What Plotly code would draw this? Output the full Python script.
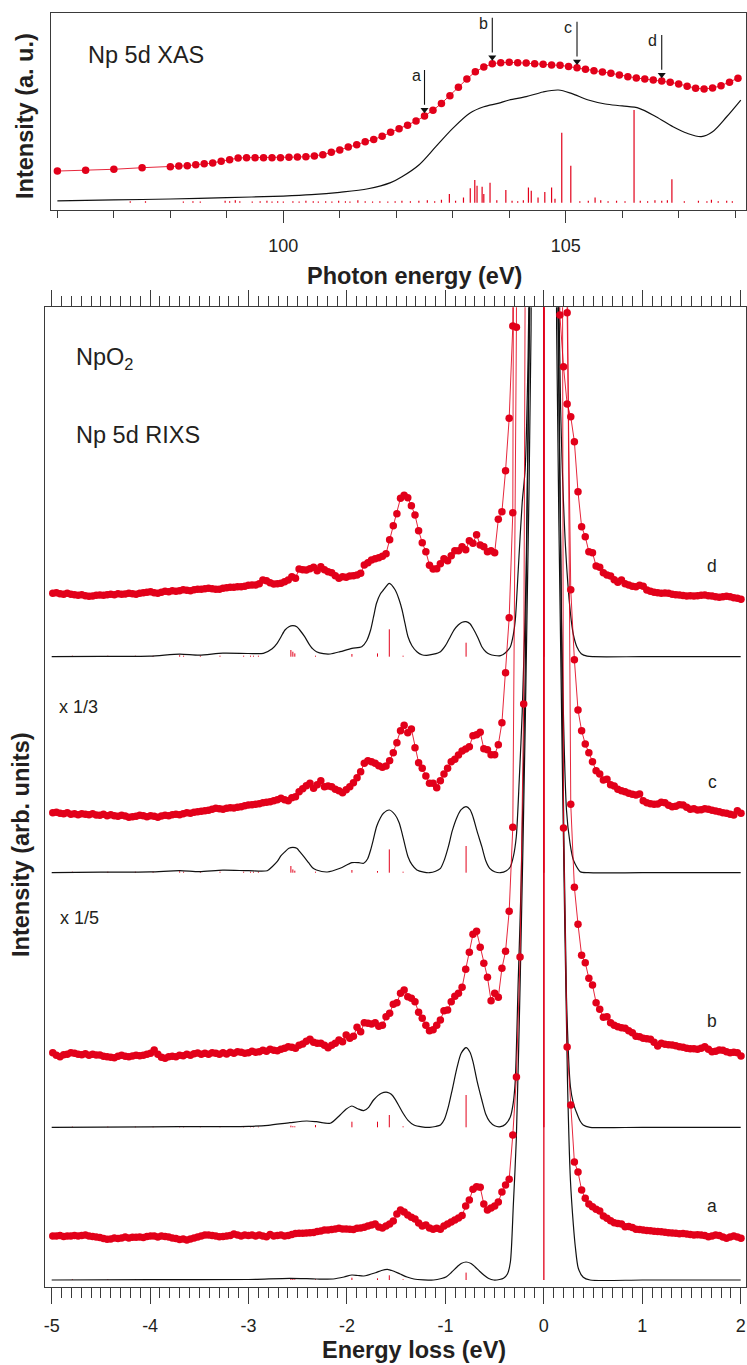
import numpy as np
import plotly.graph_objects as go

RED = "#e2001a"
RED_LINE = "rgba(226,0,26,0.85)"
INK = "#231f20"
FRAME = "#3a3a3a"
FONT = "Liberation Sans, Arial, Helvetica, sans-serif"

# ---------------- Np 5d XAS (top panel) ----------------
xas_energy_coarse = [96.0, 96.5, 97.0, 97.5]
xas_fine_start, xas_fine_step, xas_fine_n = 98.0, 0.15, 68
xas_exp = [19.8, 20.2, 20.7, 21.5,
           22.0, 22.4, 22.5, 23.0, 23.5, 23.9, 24.8, 25.6, 26.4, 26.6,
           26.6, 26.6, 26.6, 26.6, 26.8, 26.9, 27.1, 27.5, 28.1, 29.3,
           30.5, 32.0, 33.2, 34.7, 35.8, 37.5, 39.5, 41.3, 43.1, 45.2,
           47.8, 50.7, 54.2, 58.1, 62.4, 66.6, 70.3, 72.7, 74.4, 74.9,
           75.1, 74.9, 74.7, 74.4, 74.1, 73.7, 73.6, 72.9, 72.3, 71.5,
           70.8, 70.2, 69.5, 68.6, 67.8, 67.1, 66.6, 66.1, 65.6, 64.9,
           64.1, 62.9, 61.9, 61.5, 62.0, 63.2, 64.9, 67.0]

xas_calc_energy = [96.0, 97.0, 98.0, 99.0, 100.0, 100.5, 101.0, 101.5, 101.9, 102.1,
                   102.4, 102.7, 103.0, 103.3, 103.55, 103.8, 104.0, 104.3, 104.6, 104.87,
                   105.1, 105.4, 105.7, 106.0, 106.3, 106.6, 106.9, 107.15, 107.4, 107.6,
                   107.85, 108.1]
xas_calc = [4.6, 5.1, 5.6, 6.3, 7.1, 7.8, 9.0, 10.8, 13.9, 16.9,
            22.9, 32.2, 41.5, 49.2, 52.5, 54.2, 55.9, 57.6, 60.0, 61.0,
            59.3, 55.9, 53.9, 52.9, 51.7, 47.4, 42.3, 39.0, 37.3, 39.8,
            47.4, 55.9]

xas_stick_base = 3.7
xas_stick_energy = [97.29, 97.56, 98.23, 98.40, 98.53, 98.97, 99.05, 99.15, 99.23, 99.45,
                    99.59, 99.71, 99.80, 99.90, 100.0, 100.17, 100.28, 100.40, 100.53, 100.62,
                    100.75, 100.86, 100.98, 101.10, 101.18, 101.32, 101.45, 101.58, 101.71, 101.85,
                    101.98, 102.10, 102.25, 102.40, 102.55, 102.68, 102.80, 102.94, 103.05, 103.19,
                    103.31, 103.39, 103.43, 103.52, 103.55, 103.66, 103.78, 103.94, 104.05, 104.15,
                    104.25, 104.34, 104.39, 104.51, 104.63, 104.75, 104.81, 104.93, 105.09, 105.25,
                    105.40, 105.52, 105.62, 105.75, 105.90, 106.05, 106.21, 106.32, 106.45, 106.58,
                    106.70, 106.80, 106.88, 107.10, 107.35, 107.50, 107.58, 107.70, 107.85, 107.95]
xas_stick_height = [0.8, 0.8, 0.6, 0.8, 0.6, 1.0, 0.8, 1.2, 0.8, 0.6,
                    0.8, 1.0, 0.6, 0.8, 0.6, 0.8, 0.6, 1.0, 0.8, 0.6,
                    0.8, 0.6, 1.0, 0.8, 0.6, 1.2, 0.8, 0.6, 0.8, 0.6,
                    0.8, 1.0, 0.8, 1.0, 1.2, 0.8, 1.5, 4.4, 1.0, 2.7,
                    7.3, 11.5, 8.6, 8.1, 4.4, 10.2, 1.2, 6.5, 1.0, 0.8,
                    1.2, 7.8, 6.1, 2.7, 5.4, 7.8, 2.0, 35.6, 18.8, 0.8,
                    1.0, 2.7, 1.2, 0.8, 1.0, 0.8, 47.1, 1.0, 0.8, 1.2,
                    1.0, 1.2, 11.9, 0.8, 1.0, 0.8, 1.5, 0.8, 1.0, 0.8]

# excitation energies used for the RIXS spectra
excitation_labels = ["a", "b", "c", "d"]
excitation_energy = [102.5, 103.7, 105.2, 106.7]

# ---------------- Np 5d RIXS (bottom panel) ----------------
loss_start, loss_step, loss_n = -4.989, 0.0368, 191

rixs_a = [44, 44, 44.5, 43.5, 44, 44, 44.5, 44, 44.5, 45,
          44, 43.5, 43, 42.5, 41.5, 40.7, 41, 42, 41.5, 42,
          43, 42, 42.7, 42.7, 43, 42.5, 43.5, 44, 44, 43,
          44, 43.5, 43, 42, 41.5, 40.5, 41, 40, 41, 42,
          43, 44, 45, 45, 44.5, 44, 43.3, 43.5, 44, 44.5,
          46, 45, 44, 45, 44.5, 45, 44, 45, 44, 43.3,
          45.5, 44, 44.5, 45, 44, 44.5, 45.5, 46.5, 46.7, 46.7,
          47, 47.3, 47.5, 48.5, 49, 50, 50, 50.5, 51, 51.7,
          51, 51, 50.7, 50.5, 51.7, 52, 52.7, 54, 55, 56,
          53, 52, 54, 56, 59, 66, 70, 68, 65, 62.7,
          61, 57, 54, 55, 52, 50.7, 51.7, 50.7, 54, 56,
          58, 60, 62, 64.5, 74, 80, 90.7, 93.3, 92.7, 76,
          70, 72, 74, 78, 88, 95, 100.7, 145, 203, 323,
          576, 1600, 3500, 6000, 8000, 9000, 9000, 8000, 6500, 4500,
          2500, 452, 233, 175, 118, 108, 90, 81.7, 76, 73.3,
          70.7, 69, 64, 61.7, 59.3, 57.3, 56.5, 56, 53.3, 53.5,
          52.5, 50.7, 50.5, 50, 49.5, 49.3, 48.8, 48.5, 48.3, 47.8,
          47.3, 47, 46.7, 46.3, 46.5, 46, 45.5, 45, 45.3, 45,
          44.5, 43.3, 44, 45, 44.5, 43, 41.7, 43, 44, 43, 41.7]

rixs_b = [74.6, 72, 70.6, 72.5, 73, 74.5, 74, 73, 72.5, 73.5,
          72, 73, 72.3, 72.3, 71, 70.5, 70, 69.6, 71, 72,
          71, 70.5, 71.3, 72, 71.5, 72, 73, 74, 77.3, 73,
          70, 69, 70.5, 71, 70.6, 72, 71.5, 73, 72, 73.5,
          74.3, 73, 74, 73, 74.6, 74, 73, 74.5, 73.3, 75,
          74, 75.6, 75, 74, 74.6, 76, 75, 75.6, 77, 76,
          78, 77, 76.6, 78, 79, 80.6, 80, 79, 82, 83.3,
          86, 88, 85, 84, 84, 82, 79.6, 82, 84, 87.3,
          85.6, 92.3, 89, 91, 100, 95.6, 104.6, 104, 103.3, 104.6,
          101, 102, 110.6, 114, 123, 124.6, 134, 137.3, 130.6, 129,
          125.6, 115, 109, 102, 96.5, 97.5, 102, 107.3, 116.6, 117.3,
          125.6, 131, 134, 140, 158, 175, 193, 196, 180, 164,
          150, 126.6, 134, 130, 159, 176, 216, 300, 800, 2500,
          5000, 7000, 8000, 8500, 8500, 8000, 7000, 6000, 5000, 4000,
          3000, 1800, 900, 323, 240, 203, 172, 164.6, 149, 142.3,
          124.6, 118, 110, 110.6, 104.6, 102, 100.6, 99.5, 99, 96.5,
          94.6, 91, 90.6, 89, 88.5, 88, 85, 81.3, 84, 83,
          82.5, 82.3, 81.5, 80.6, 80, 79, 78.5, 78.5, 78, 79,
          80.6, 78, 75.6, 76, 77.3, 77, 75.5, 74.6, 75, 74.6, 71.3]

rixs_c = [60, 60.5, 59.5, 59, 60, 58.5, 59, 58, 59, 58.5,
          58, 59, 57.7, 57.5, 58.5, 57, 58, 57, 56.5, 57.5,
          56.7, 55.5, 56, 56.5, 57.5, 57, 56, 57, 56.5, 55.5,
          56.7, 57.5, 57, 58, 58.5, 58, 59, 60, 59.5, 60.5,
          61, 61.5, 62, 62.5, 63.5, 64.4, 64, 63.5, 64.5, 65,
          64.7, 65.5, 66, 67, 67.7, 68, 68.5, 69, 70, 70.5,
          71, 72, 73, 74.4, 73, 72, 75, 76, 81, 84,
          87, 89.4, 84.4, 88, 92, 86, 86.7, 86, 83.4, 82,
          80, 83, 86, 90, 95, 101, 109.4, 112, 111, 109.4,
          107, 105.4, 106.7, 112, 120, 130, 142, 147.5, 140, 143.7,
          125, 110, 104.4, 96.7, 89.4, 89.4, 85, 92, 98.7, 104.4,
          111, 113.4, 117.7, 121.7, 123.7, 126, 137, 138, 140.4, 124,
          123, 118, 118, 128, 150, 200, 255, 360, 1500, 4000,
          6000, 8000, 9000, 9500, 9500, 9000, 8000, 6500, 5000, 3500,
          2000, 1200, 560, 283, 213, 162.7, 142, 128.7, 120, 111,
          102, 98.7, 92.7, 93.4, 88, 86.7, 83.4, 82, 81, 79.4,
          78.5, 77.7, 78.7, 72, 70, 69, 68.5, 68.7, 70.5, 70,
          67.5, 66, 66.5, 68, 67.7, 65.5, 63.4, 64, 62.7, 63,
          64, 63.4, 62.5, 61.7, 61, 60, 59.5, 58.5, 57.7, 62, 59.4]

rixs_d = [63.4, 64, 63, 62.5, 63.5, 62.5, 62, 61.5, 62, 61,
          60.5, 60.7, 61.5, 61.7, 61.5, 62, 62.5, 62, 63, 62.5,
          62.7, 63.5, 63, 62.5, 63.5, 64, 64.5, 65, 64, 63.5,
          64.5, 65.5, 65, 66, 65.5, 66, 67, 66.5, 66, 67,
          67.5, 67.5, 68, 68.4, 68, 67.5, 67.4, 68.5, 69, 69.4,
          69.5, 70, 70, 70.5, 71.5, 71.7, 71.7, 73, 76.7, 76,
          74, 72.7, 73, 73.4, 75, 76.7, 80, 78.4, 87.7, 87,
          86.7, 88, 89.4, 86, 90, 87, 85, 84, 81, 78.4,
          80, 79.5, 80.7, 81, 81.7, 83.4, 91.7, 94, 96.7, 98,
          99, 100.5, 103, 117, 131, 143, 158.5, 161.5, 159, 151,
          141.7, 126, 114, 105, 91.5, 87.7, 88, 93, 98, 96,
          101, 106, 106, 110, 107, 116, 113.4, 122, 111.7, 110,
          105, 106, 104, 137.4, 145, 186, 238.4, 330.7, 1500, 4000,
          6000, 8000, 9000, 9500, 9500, 9000, 8000, 6000, 4000, 1500,
          341.7, 290, 252.7, 240, 215, 165, 130, 120, 105, 104,
          90.7, 89.4, 84, 81.7, 80.7, 77, 74.4, 76.7, 73, 71.7,
          70.5, 70, 71.5, 70.5, 66.7, 65.5, 64.4, 64, 63.4, 63.6,
          63.4, 62.5, 62, 61.7, 61.2, 60.7, 61, 60.7, 61, 61.5,
          61.7, 61, 60.7, 60, 59.4, 60, 60.5, 60, 59, 58.4, 57.4]

# calculated spectra (broadened), energy loss / intensity pairs
calc_a_x = [-5.0, -4.0, -3.0, -2.58, -2.31, -2.14, -2.03, -1.95, -1.89, -1.83,
            -1.71, -1.65, -1.59, -1.53, -1.46, -1.39, -1.32, -1.12, -1.04, -0.99,
            -0.94, -0.88, -0.84, -0.79, -0.74, -0.70, -0.65, -0.61, -0.56, -0.51,
            -0.45, -0.41, -0.37, -0.34, -0.31, -0.28, -0.24, -0.19, -0.13, -0.06,
            0.0, 0.06, 0.13, 0.19, 0.24, 0.27, 0.30, 0.32, 0.35, 0.40, 0.47, 1.0, 2.0]
calc_a = [0, 0.3, 0.5, 1.7, 1, 1, 3, 5, 4.5, 4,
          7.3, 9.5, 10.7, 9, 6, 3, 1, 0, 1.5, 3.3,
          7.5, 13.3, 16.5, 18, 16.5, 13.3, 8.5, 5, 1.5, 0,
          0.5, 1.7, 6, 18, 75, 140, 300, 550, 950, 2500,
          5000, 2500, 950, 500, 200, 100, 55, 33, 11.7, 2.7, 0, 0, 0]

calc_b_x = [-5.0, -4.0, -3.0, -2.8, -2.58, -2.41, -2.31, -2.17, -2.07, -2.01,
            -1.95, -1.89, -1.83, -1.78, -1.73, -1.65, -1.59, -1.55, -1.51, -1.47,
            -1.43, -1.38, -1.32, -1.24, -1.16, -1.10, -1.05, -1.01, -0.97, -0.93,
            -0.88, -0.84, -0.79, -0.75, -0.72, -0.68, -0.63, -0.59, -0.55, -0.50,
            -0.44, -0.39, -0.34, -0.31, -0.29, -0.26, -0.23, -0.19, -0.14, -0.07,
            0.0, 0.07, 0.14, 0.19, 0.23, 0.27, 0.30, 0.335, 0.37, 0.40, 0.47, 1.0, 2.0]
calc_b = [0, 0.5, 1, 2, 4.6, 6.3, 5.6, 4, 12.3, 18,
          21.3, 18.5, 16.6, 20, 27.3, 34, 35, 33, 28, 21,
          14, 7, 2.3, 0.5, 0, 0.8, 2.3, 8, 20.6, 38,
          60.6, 74, 79.6, 75, 65.6, 47, 27.3, 13, 5.6, 1.5,
          0.6, 3, 10.6, 25, 47.3, 147.3, 247.3, 450, 900, 2000,
          3500, 2000, 900, 400, 130, 40.6, 24, 14, 6, 2.3, 0, 0, 0]

calc_c_x = [-5.0, -4.5, -4.0, -3.7, -3.5, -3.26, -3.0, -2.81, -2.76, -2.71,
            -2.67, -2.63, -2.59, -2.55, -2.51, -2.48, -2.43, -2.39, -2.35, -2.31,
            -2.20, -2.07, -1.95, -1.88, -1.83, -1.79, -1.76, -1.73, -1.70, -1.66,
            -1.63, -1.57, -1.51, -1.47, -1.44, -1.41, -1.38, -1.34, -1.29, -1.22,
            -1.16, -1.10, -1.05, -1.01, -0.97, -0.93, -0.88, -0.84, -0.79, -0.75,
            -0.72, -0.68, -0.63, -0.59, -0.55, -0.50, -0.44, -0.38, -0.34, -0.31,
            -0.28, -0.25, -0.22, -0.18, -0.13, -0.06, 0.0, 0.06, 0.13, 0.18,
            0.23, 0.265, 0.30, 0.37, 0.45, 1.0, 2.0]
calc_c = [0, 0.5, 0.8, 2, 1, 2.5, 2, 2, 6, 11,
          17, 21, 24.5, 25.4, 24.5, 21, 15, 10, 5, 2.7,
          0.7, 4.4, 10, 10, 9.4, 14, 22.7, 34, 46, 55,
          59.4, 62.7, 57.7, 50, 39.4, 27, 16, 8, 2.7, 0.5,
          0, 1.5, 4.4, 13, 26, 42, 56, 63, 66, 63,
          56, 42, 26, 12, 4.4, 1, 0, 2, 6, 16,
          36, 92.7, 160, 300, 700, 1800, 3000, 1800, 700, 250,
          62.7, 30, 12.7, 1, 0, 0, 0]

calc_d_x = [-5.0, -4.5, -4.0, -3.7, -3.5, -3.26, -3.0, -2.85, -2.76, -2.71,
            -2.67, -2.63, -2.59, -2.55, -2.51, -2.48, -2.43, -2.39, -2.35, -2.31,
            -2.24, -2.17, -2.07, -1.95, -1.85, -1.80, -1.76, -1.73, -1.70, -1.66,
            -1.63, -1.57, -1.51, -1.47, -1.44, -1.41, -1.38, -1.34, -1.29, -1.24,
            -1.19, -1.12, -1.05, -1.00, -0.95, -0.91, -0.87, -0.83, -0.79, -0.75,
            -0.72, -0.67, -0.63, -0.59, -0.55, -0.50, -0.44, -0.39, -0.34, -0.31,
            -0.29, -0.26, -0.22, -0.19, -0.16, -0.12, -0.06, 0.0, 0.06, 0.12,
            0.17, 0.22, 0.27, 0.30, 0.335, 0.38, 0.44, 0.50, 1.0, 2.0]
calc_d = [0, 0.3, 0.5, 2.5, 1.5, 3.5, 3.2, 3.4, 8, 13.4,
          20, 26.7, 30, 31, 30, 26.7, 20, 13.4, 8, 5,
          3, 2.7, 5, 8.4, 10, 16, 26.7, 40, 53.4, 63,
          66.7, 73.4, 66.7, 57, 46.7, 33, 20, 11, 5, 2,
          1.4, 2.5, 5, 11, 20, 27, 31.7, 34.5, 35, 33,
          28.4, 19, 10, 5, 2.4, 1.2, 1, 4, 10, 22,
          36.7, 87, 154, 187, 300, 600, 1500, 2500, 1500, 600,
          250, 110, 43.7, 22, 10, 3, 0.5, 0, 0, 0]

# multiplet transitions (stick positions shared by all spectra)
stick_loss = [-4.79, -4.43, -4.15, -3.97, -3.70, -3.66, -3.49, -3.29, -3.05, -2.98,
              -2.95, -2.90, -2.57, -2.55, -2.53, -2.32, -1.95, -1.69, -1.57, -1.43,
              -0.79, 0.0]
stick_a = [0.7, 0.7, 0.7, 0.7, 0.7, 0.7, 0.7, 0.7, 0.7, 0.7,
           0.7, 0.7, 1.3, 1.0, 0.7, 0.7, 2.3, 1.7, 4.7, 0.7, 7.4, 6000]
stick_b = [0.7, 0.7, 0.7, 0.7, 1.0, 0.7, 0.7, 0.7, 0.7, 0.7,
           0.7, 0.7, 1.7, 1.2, 1.0, 2.3, 5.6, 5.6, 12.3, 1.0, 32.3, 6000]
stick_c = [1.0, 1.0, 1.0, 1.0, 1.5, 1.0, 1.0, 1.0, 1.0, 1.0,
           1.0, 1.0, 6.7, 3.3, 2.0, 1.0, 2.7, 1.7, 23.3, 1.0, 26.7, 6000]
stick_d = [1.0, 1.0, 1.0, 1.0, 1.5, 1.0, 1.0, 1.0, 1.0, 1.0,
           1.0, 1.0, 6.7, 5.0, 3.3, 1.0, 2.7, 3.3, 27.4, 1.0, 14.0, 6000]

# vertical offsets of the stacked spectra
spectrum_offset = {"a": 6.7, "b": 159.4, "c": 414.0, "d": 630.0}

loss_tick_vals = [-5, -4, -3, -2, -1, 0, 1, 2]
loss_tick_text = ["-5", "-4", "-3", "-2", "-1", "0", "1", "2"]
photon_tick_vals = [100, 105]
photon_tick_text = ["100", "105"]
photon_minor_vals = [96, 97, 98, 99, 101, 102, 103, 104, 106, 107, 108]

# ---------------------------------------------------------------------------
assert len(xas_exp) == len(xas_energy_coarse) + xas_fine_n
assert len(xas_stick_energy) == len(xas_stick_height)
assert len(xas_calc_energy) == len(xas_calc)
for arr in (rixs_a, rixs_b, rixs_c, rixs_d):
    assert len(arr) == loss_n, len(arr)
for xs_, ys_ in ((calc_a_x, calc_a), (calc_b_x, calc_b), (calc_c_x, calc_c), (calc_d_x, calc_d)):
    assert len(xs_) == len(ys_), (len(xs_), len(ys_))
for arr in (stick_a, stick_b, stick_c, stick_d):
    assert len(arr) == len(stick_loss)

xas_energy = xas_energy_coarse + list(np.round(xas_fine_start + xas_fine_step * np.arange(xas_fine_n), 2))
loss = np.round(loss_start + loss_step * np.arange(loss_n), 4)


def stick_segments(pos, heights, base):
    xs, ys = [], []
    for p, h in zip(pos, heights):
        xs += [p, p, None]
        ys += [base, base + h, None]
    return xs, ys


fig = go.Figure()

# ---- top panel traces
sx, sy = stick_segments(xas_stick_energy, xas_stick_height, xas_stick_base)
fig.add_trace(go.Scatter(x=sx, y=sy, mode="lines", line=dict(color=RED, width=1.2),
                         xaxis="x", yaxis="y", hoverinfo="skip"))
fig.add_trace(go.Scatter(x=xas_calc_energy, y=xas_calc, mode="lines",
                         line=dict(color="#111111", width=1.2, shape="spline", smoothing=0.9),
                         xaxis="x", yaxis="y"))
fig.add_trace(go.Scatter(x=xas_energy, y=xas_exp, mode="lines+markers",
                         line=dict(color=RED_LINE, width=1),
                         marker=dict(color=RED, size=7.5),
                         xaxis="x", yaxis="y"))

# excitation-energy arrows: shaft + head, hanging above the XAS points
arrow_tail, arrow_tip = 23.4, 3.2   # distance above the data point, in intensity units
for lab, e in zip(excitation_labels, excitation_energy):
    i = int(np.argmin(np.abs(np.array(xas_energy) - e)))
    xe, ye = xas_energy[i], xas_exp[i]
    fig.add_trace(go.Scatter(x=[xe, xe], y=[ye + arrow_tail, ye + arrow_tip + 2.5], mode="lines",
                             line=dict(color="#111111", width=1.1),
                             xaxis="x", yaxis="y", hoverinfo="skip"))
    fig.add_trace(go.Scatter(x=[xe], y=[ye + arrow_tip], mode="markers",
                             marker=dict(symbol="triangle-down", size=7, color="#111111"),
                             xaxis="x", yaxis="y", hoverinfo="skip"))

# ---- bottom panel traces
spectra = [("a", rixs_a, calc_a_x, calc_a, stick_a),
           ("b", rixs_b, calc_b_x, calc_b, stick_b),
           ("c", rixs_c, calc_c_x, calc_c, stick_c),
           ("d", rixs_d, calc_d_x, calc_d, stick_d)]

for name, exp, cx, cy, sticks in spectra:
    off = spectrum_offset[name]
    sx, sy = stick_segments(stick_loss[:-1], sticks[:-1], off)
    fig.add_trace(go.Scatter(x=sx, y=sy, mode="lines", line=dict(color=RED, width=1),
                             xaxis="x2", yaxis="y2", hoverinfo="skip"))
    ex, ey = stick_segments(stick_loss[-1:], sticks[-1:], off)
    fig.add_trace(go.Scatter(x=ex, y=ey, mode="lines", line=dict(color=RED, width=1.3),
                             xaxis="x2", yaxis="y2", hoverinfo="skip"))

for name, exp, cx, cy, sticks in spectra:
    off = spectrum_offset[name]
    fig.add_trace(go.Scatter(x=cx, y=[v + off for v in cy], mode="lines",
                             line=dict(color="#111111", width=1.2, shape="spline", smoothing=0.7),
                             xaxis="x2", yaxis="y2"))

for name, exp, cx, cy, sticks in spectra:
    off = spectrum_offset[name]
    fig.add_trace(go.Scatter(x=loss, y=[v + off for v in exp], mode="lines+markers",
                             line=dict(color=RED_LINE, width=1),
                             marker=dict(color=RED, size=7.5),
                             xaxis="x2", yaxis="y2"))

W, H = 747, 1365


def px(x):
    return x / W


def py(y):
    return 1 - y / H


frame = dict(showline=True, linecolor=FRAME, linewidth=1.4, showgrid=False, zeroline=False)
tickfont = dict(family=FONT, size=18, color=INK)

fig.update_layout(
    width=W, height=H, margin=dict(l=0, r=0, t=0, b=0),
    paper_bgcolor="white", plot_bgcolor="white", showlegend=False,
    font=dict(family=FONT, color=INK),
    xaxis=dict(domain=[px(51), px(746)], range=[95.887, 108.192], anchor="y",
               mirror=True, ticks="outside", tickvals=photon_tick_vals, ticktext=photon_tick_text,
               ticklen=12, tickwidth=1.4, tickcolor=FRAME, tickfont=tickfont,
               ticklabelstandoff=7,
               minor=dict(ticks="outside", ticklen=7, tickwidth=1.4, tickcolor=FRAME,
                          tickvals=photon_minor_vals),
               **frame),
    yaxis=dict(domain=[py(210), py(13.3)], range=[0, 100], anchor="x", mirror=True,
               showticklabels=False, ticks="", **frame),
    xaxis2=dict(domain=[px(44.7), px(746)], range=[-5.0711, 2.0538], anchor="y2",
                mirror="ticks", ticks="outside", tickvals=loss_tick_vals, ticktext=loss_tick_text,
                ticklen=16, tickwidth=1.4, tickcolor=FRAME, tickfont=tickfont,
                ticklabelstandoff=6,
                minor=dict(ticks="outside", ticklen=10, tickwidth=1.4, tickcolor=FRAME,
                           tickmode="linear", tick0=0, dtick=0.1),
                **frame),
    yaxis2=dict(domain=[py(1286.7), py(307.3)], range=[0, 979.4], anchor="x2", mirror=True,
                showticklabels=False, ticks="", **frame),
)

ann = []


def text(t, x, y, size, xanchor="left", yanchor="middle", angle=0):
    ann.append(dict(text=t, x=px(x), y=py(y), xref="paper", yref="paper", showarrow=False,
                    xanchor=xanchor, yanchor=yanchor, textangle=angle,
                    font=dict(family=FONT, size=size, color=INK)))


# axis titles
text("<b>Photon energy (eV)</b>", 414.5, 276, 23.5, xanchor="center")
text("<b>Energy loss (eV)</b>", 414, 1350, 23.5, xanchor="center")
text("<b>Intensity (a. u.)</b>", 25, 116, 23.5, xanchor="center", angle=-90)
text("<b>Intensity (arb. units)</b>", 21, 845, 23.5, xanchor="center", angle=-90)

# panel labels
text("Np 5d XAS", 86, 55, 23.5)
text("NpO<sub>2</sub>", 74, 359, 23.5)
text("Np 5d RIXS", 74, 435, 23.5)
text("x 1/3", 57, 707, 18)
text("x 1/5", 58, 918, 18)

# spectrum letters on the right
for name, ypos in zip(["d", "c", "b", "a"], [566, 782, 1021, 1206]):
    text(name, 712, ypos, 17.5, xanchor="center")

# letters next to the excitation arrows
label_dx = {"a": -8, "b": -9, "c": -9, "d": -9}
for lab, e in zip(excitation_labels, excitation_energy):
    i = int(np.argmin(np.abs(np.array(xas_energy) - e)))
    ann.append(dict(x=xas_energy[i], y=xas_exp[i], xref="x", yref="y", text=lab,
                    showarrow=False, xanchor="center", yanchor="middle",
                    xshift=label_dx[lab], yshift=40,
                    font=dict(family=FONT, size=16, color=INK)))

fig.update_layout(annotations=ann)
fig.write_html("out.html")
